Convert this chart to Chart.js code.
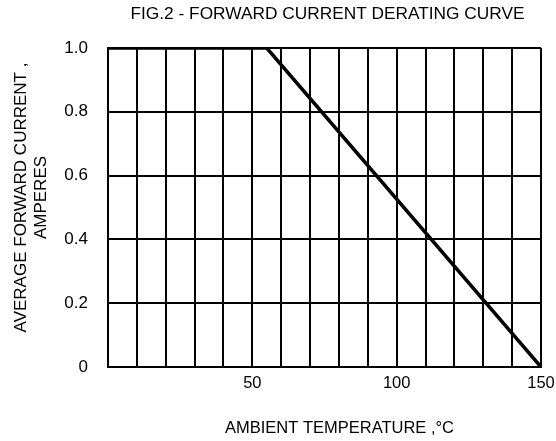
<!DOCTYPE html>
<html>
<head>
<meta charset="utf-8">
<script src="https://cdn.jsdelivr.net/npm/chart.js@4"></script>
<style>
  html, body { margin: 0; padding: 0; background: #fff; }
  #wrap { width: 556px; height: 441px; }
</style>
</head>
<body>
<div id="wrap"><canvas id="chart" width="556" height="441"></canvas></div>
<script>
// derating curve: flat at 1.0 A up to 55 °C, then linear down to 0 at 150 °C
let temps = [0, 55, 150];
let currents = [1.0, 1.0, 0];
let xLabels = [50, 100, 150];
let chartTitle = 'FIG.2 - FORWARD CURRENT DERATING CURVE';
let xTitle = 'AMBIENT TEMPERATURE ,°C';
let yTitle = ['AVERAGE FORWARD CURRENT ,', 'AMPERES'];

let fontFamily = 'Arial, "Liberation Sans", sans-serif';

// the titles in the original are not centred on the plot, so draw them by hand
let titlePlugin = {
    id: 'figTitles',
    afterDraw(chart) {
        let ctx = chart.ctx;
        let a = chart.chartArea;
        let mid = (a.left + a.right) / 2;
        ctx.save();
        ctx.fillStyle = '#000';
        ctx.textAlign = 'center';
        ctx.textBaseline = 'middle';

        ctx.font = '17.3px ' + fontFamily;
        ctx.fillText(chartTitle, mid + 3, 14);

        ctx.font = '16.5px ' + fontFamily;
        ctx.fillText(xTitle, mid + 15, a.bottom + 61);

        ctx.font = '17px ' + fontFamily;
        ctx.translate(0, (a.top + a.bottom) / 2 - 10);
        ctx.rotate(-Math.PI / 2);
        ctx.fillText(yTitle[0], 0, 21);
        ctx.fillText(yTitle[1], 0, 41);
        ctx.restore();
    }
};

let canvas = document.getElementById('chart');

let chart = new Chart(canvas, {
    type: 'line',
    data: {
        datasets: [{
            data: temps.map((t, i) => ({ x: t, y: currents[i] })),
            borderColor: '#000',
            borderWidth: 3.5,
            pointRadius: 0,
            fill: false,
            tension: 0
        }]
    },
    options: {
        responsive: false,
        animation: false,
        layout: { padding: { top: 48, right: 15, left: 0, bottom: 0 } },
        plugins: {
            legend: { display: false },
            tooltip: { enabled: false }
        },
        scales: {
            x: {
                type: 'linear',
                min: 0,
                max: 150,
                afterFit: s => {
                    s.height = 74;
                    // let the "150" label hang over the right edge like the original
                    s.paddingRight = 0;
                    s.paddingLeft = 0;
                },
                grid: { color: '#000', lineWidth: 2, drawTicks: false },
                border: { color: '#000', width: 2 },
                ticks: {
                    stepSize: 10,
                    autoSkip: false,
                    maxRotation: 0,
                    padding: 7,
                    color: '#000',
                    font: { family: fontFamily, size: 16.5 },
                    callback: v => xLabels.includes(v) ? String(v) : ''
                }
            },
            y: {
                min: 0,
                max: 1.0,
                afterFit: s => { s.width = 108; },
                grid: { color: '#000', lineWidth: 2, drawTicks: false },
                border: { color: '#000', width: 2 },
                ticks: {
                    stepSize: 0.2,
                    padding: 20,
                    color: '#000',
                    font: { family: fontFamily, size: 17 },
                    callback: v => v === 0 ? '0' : v.toFixed(1)
                }
            }
        }
    },
    plugins: [titlePlugin]
});
</script>
</body>
</html>
